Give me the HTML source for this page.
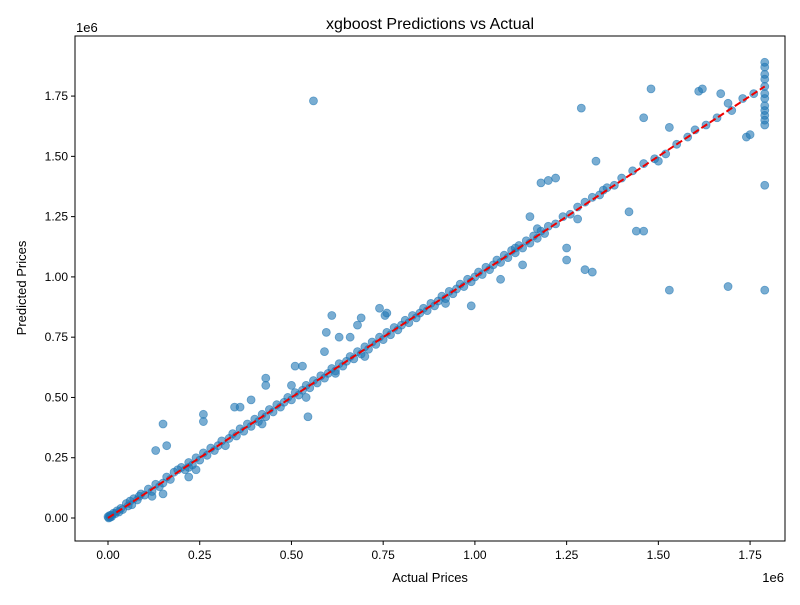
<!DOCTYPE html>
<html><head><meta charset="utf-8"><style>
body{margin:0;background:#fff;}
svg{font-family:"Liberation Sans","DejaVu Sans",sans-serif;}
</style></head><body>
<svg id="chart" width="800" height="600" xmlns="http://www.w3.org/2000/svg">
<rect width="800" height="600" fill="#fff"/>
<text x="430" y="29" font-size="16" text-anchor="middle">xgboost Predictions vs Actual</text>
<rect x="75" y="36" width="710" height="505" fill="none" stroke="#000" stroke-width="1"/>
<g id="xticks"></g>
<g id="yticks"></g>
<g id="points"></g>
<g id="ref"></g>
<text x="430" y="582" font-size="13" text-anchor="middle">Actual Prices</text>
<text transform="translate(26,288) rotate(-90)" font-size="13" text-anchor="middle">Predicted Prices</text>
<text x="784" y="582" font-size="13" text-anchor="end">1e6</text>
<text x="76" y="32" font-size="13">1e6</text>
</svg>
<script>
const xTicks=[0,0.25,0.5,0.75,1.0,1.25,1.5,1.75];
const yTicks=[0,0.25,0.5,0.75,1.0,1.25,1.5,1.75];
const tickLabels=["0.00","0.25","0.50","0.75","1.00","1.25","1.50","1.75"];
const actual=[0,0.002,0.004,0.006,0.008,0.01,0.015,0.02,0.025,0.03,0.035,0.04,0.05,0.055,0.06,0.065,0.07,0.08,0.085,0.09,0.1,0.11,0.12,0.13,0.14,0.15,0.16,0.17,0.18,0.19,0.2,0.21,0.22,0.23,0.24,0.25,0.26,0.27,0.28,0.29,0.3,0.31,0.32,0.33,0.34,0.35,0.36,0.37,0.38,0.39,0.4,0.41,0.42,0.43,0.44,0.45,0.46,0.47,0.48,0.49,0.5,0.51,0.52,0.53,0.54,0.55,0.56,0.57,0.58,0.59,0.6,0.61,0.62,0.63,0.64,0.65,0.66,0.67,0.68,0.69,0.7,0.71,0.72,0.73,0.74,0.75,0.76,0.77,0.78,0.79,0.8,0.81,0.82,0.83,0.84,0.85,0.86,0.87,0.88,0.89,0.9,0.91,0.92,0.93,0.94,0.95,0.96,0.97,0.98,0.99,1.0,1.01,1.02,1.03,1.04,1.05,1.06,1.07,1.08,1.09,1.1,1.11,1.12,1.13,1.14,1.15,1.16,1.17,1.18,1.19,1.2,1.22,1.24,1.26,1.28,1.3,1.32,1.34,1.36,1.38,1.4,1.43,1.46,1.49,1.52,1.55,1.58,1.6,1.63,1.66,1.7,1.73,1.76,
0.56,0.15,0.16,0.13,0.15,0.26,0.26,0.22,0.24,0.345,0.36,0.43,0.43,0.39,0.51,0.53,0.545,0.54,0.59,0.595,0.61,0.63,0.66,0.68,0.69,0.74,0.755,0.76,0.99,1.07,1.13,1.15,1.18,1.2,1.22,1.25,1.25,1.29,1.3,1.32,1.33,1.42,1.44,1.46,1.46,1.48,1.53,1.53,1.61,1.62,1.67,1.69,1.69,1.74,1.75,1.79,1.79,
1.79,1.79,1.79,1.79,1.79,1.79,1.79,1.79,1.79,1.79,1.79,1.79,0.12,0.22,0.42,0.5,0.62,0.7,0.92,1.11,1.17,1.28,1.35,1.5];
const predicted=[0.005,0,0.01,0.003,0.012,0.006,0.02,0.018,0.03,0.025,0.04,0.035,0.06,0.05,0.07,0.055,0.08,0.075,0.09,0.1,0.095,0.12,0.11,0.14,0.13,0.145,0.17,0.16,0.19,0.2,0.21,0.2,0.23,0.22,0.25,0.24,0.27,0.26,0.29,0.28,0.3,0.32,0.3,0.33,0.35,0.34,0.37,0.36,0.39,0.38,0.41,0.4,0.43,0.42,0.45,0.44,0.47,0.46,0.48,0.5,0.49,0.52,0.51,0.53,0.55,0.54,0.57,0.56,0.59,0.58,0.6,0.62,0.61,0.64,0.63,0.65,0.67,0.66,0.69,0.68,0.71,0.7,0.73,0.72,0.75,0.74,0.77,0.76,0.79,0.78,0.8,0.82,0.81,0.84,0.83,0.85,0.87,0.86,0.89,0.88,0.9,0.92,0.91,0.94,0.93,0.95,0.97,0.96,0.99,0.98,1.0,1.02,1.01,1.04,1.03,1.05,1.07,1.06,1.09,1.08,1.11,1.1,1.13,1.12,1.15,1.14,1.17,1.16,1.19,1.18,1.21,1.22,1.25,1.26,1.29,1.31,1.33,1.34,1.37,1.38,1.41,1.44,1.47,1.49,1.51,1.55,1.58,1.61,1.63,1.66,1.69,1.74,1.76,
1.73,0.39,0.3,0.28,0.1,0.43,0.4,0.17,0.2,0.46,0.46,0.58,0.55,0.49,0.63,0.63,0.42,0.5,0.69,0.77,0.84,0.75,0.75,0.8,0.83,0.87,0.84,0.85,0.88,0.99,1.05,1.25,1.39,1.4,1.41,1.07,1.12,1.7,1.03,1.02,1.48,1.27,1.19,1.19,1.66,1.78,0.945,1.62,1.77,1.78,1.76,0.96,1.72,1.58,1.59,0.945,1.38,
1.63,1.65,1.67,1.69,1.71,1.74,1.76,1.79,1.82,1.84,1.87,1.89,0.09,0.21,0.39,0.55,0.6,0.67,0.89,1.12,1.2,1.24,1.36,1.48];
const X0=108,XS=366.9,Y0=518,YS=241.1;
const sx=v=>X0+v*XS, sy=v=>Y0-v*YS;
const NS="http://www.w3.org/2000/svg";
const xg=document.getElementById('xticks'),yg=document.getElementById('yticks');
xTicks.forEach((t,i)=>{
 const l=document.createElementNS(NS,'line');
 l.setAttribute('x1',sx(t));l.setAttribute('x2',sx(t));l.setAttribute('y1',541);l.setAttribute('y2',545);l.setAttribute('stroke','#000');
 
 
 xg.appendChild(l);
 const tx=document.createElementNS(NS,'text');
 tx.setAttribute('x',sx(t));tx.setAttribute('y',559);tx.setAttribute('font-size','12');tx.setAttribute('text-anchor','middle');
 tx.textContent=tickLabels[i];
 
 
 xg.appendChild(tx);
});
yTicks.forEach((t,i)=>{
 const l=document.createElementNS(NS,'line');
 l.setAttribute('x1',71);l.setAttribute('x2',75);l.setAttribute('y1',sy(t));l.setAttribute('y2',sy(t));l.setAttribute('stroke','#000');
 
 
 yg.appendChild(l);
 const tx=document.createElementNS(NS,'text');
 tx.setAttribute('x',68);tx.setAttribute('y',sy(t)+4);tx.setAttribute('font-size','12');tx.setAttribute('text-anchor','end');
 tx.textContent=tickLabels[i];
 
 
 yg.appendChild(tx);
});
const pg=document.getElementById('points');
actual.forEach((a,i)=>{
 const c=document.createElementNS(NS,'circle');
 c.setAttribute('cx',sx(a));c.setAttribute('cy',sy(predicted[i]));c.setAttribute('r',4);
 c.setAttribute('fill','#1f77b4');c.setAttribute('fill-opacity','0.6');
 c.setAttribute('stroke','#1f77b4');c.setAttribute('stroke-opacity','0.6');c.setAttribute('stroke-width','0.8');
 
 
 pg.appendChild(c);
});
const mn=Math.min(...actual),mx=Math.max(...actual);
const rl=document.createElementNS(NS,'line');
rl.setAttribute('x1',sx(mn));rl.setAttribute('y1',sy(mn));rl.setAttribute('x2',sx(mx));rl.setAttribute('y2',sy(mx));
rl.setAttribute('stroke','#e00');rl.setAttribute('stroke-width','2');rl.setAttribute('stroke-dasharray','7,3');


document.getElementById('ref').appendChild(rl);
</script>
</body></html>
